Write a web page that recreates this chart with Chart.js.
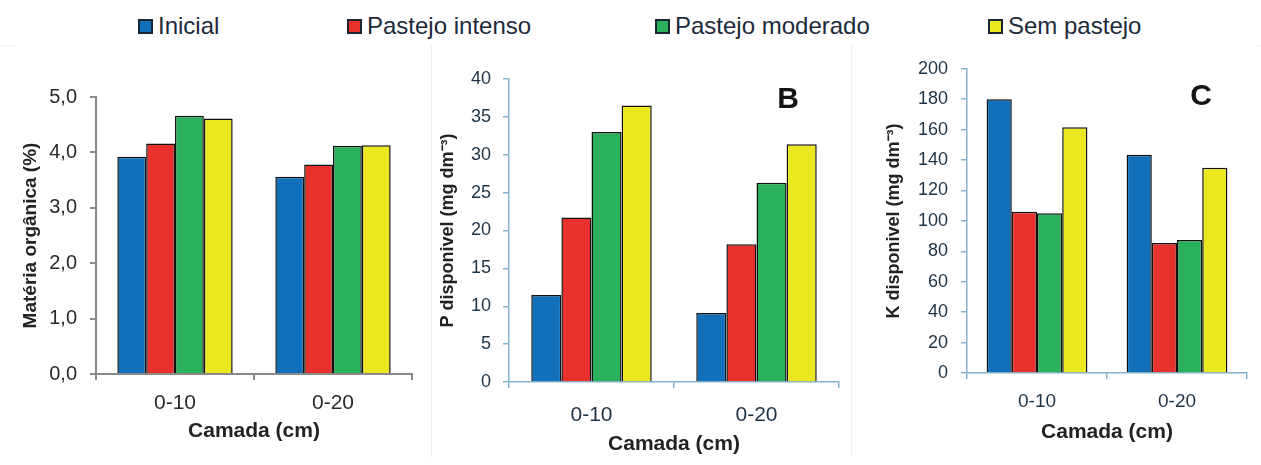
<!DOCTYPE html>
<html>
<head>
<meta charset="utf-8">
<script src="https://cdn.jsdelivr.net/npm/chart.js@4.4.1/dist/chart.umd.min.js"></script>
<style>
  body { margin: 0; background: #ffffff; width: 1261px; height: 465px; overflow: hidden; position: relative; font-family: "Liberation Sans", Arial, sans-serif; }
  .panel { position: absolute; top: 45px; background: #fff; }
  #legend { position: absolute; top: 0; left: 0; width: 1261px; height: 45px; border-bottom: 1px solid #f1f3f5; }
  .item { position: absolute; top: 12px; display: flex; align-items: center; font-size: 24px; color: #1c2a3a; }
  .box { width: 11px; height: 11px; border: 2px solid #1b2633; margin-right: 5px; }
  #wrapB { border-left: 1px solid #eef1f4; }
  #wrapC { border-left: 1px solid #eef1f4; }
</style>
</head>
<body>
<div id="legend"></div>
<div class="panel" id="wrapA" style="left:15px"><canvas id="chartA" width="415" height="413"></canvas></div>
<div class="panel" id="wrapB" style="left:431px"><canvas id="chartB" width="417" height="413"></canvas></div>
<div class="panel" id="wrapC" style="left:851px"><canvas id="chartC" width="405" height="413"></canvas></div>
<script>
// categorias e tratamentos
var camadas = ['0-10', '0-20'];
var tratamentos = ['Inicial', 'Pastejo intenso', 'Pastejo moderado', 'Sem pastejo'];
var cores = ['#1170b9', '#e8312d', '#2bb15b', '#ebe822'];

// A - materia organica (%)
var moInicial = [3.92, 3.56];
var moIntenso = [4.16, 3.78];
var moModerado = [4.66, 4.12];
var moSemPastejo = [4.61, 4.13];

// B - P disponivel (mg dm-3)
var pInicial = [11.5, 9.1];
var pIntenso = [21.7, 18.2];
var pModerado = [33.0, 26.3];
var pSemPastejo = [36.5, 31.4];

// C - K disponivel (mg dm-3)
var kInicial = [180, 143.5];
var kIntenso = [106, 85.5];
var kModerado = [105, 87.5];
var kSemPastejo = [161.5, 135];

var legendLeft = [138, 347, 655, 988];

Chart.defaults.font.family = '"Liberation Sans", Arial, sans-serif';
Chart.defaults.color = '#222';

// legenda comum aos tres graficos
var legend = document.getElementById('legend');
tratamentos.forEach(function (nome, i) {
    var item = document.createElement('div');
    item.className = 'item';
    item.style.left = legendLeft[i] + 'px';
    var box = document.createElement('span');
    box.className = 'box';
    box.style.background = cores[i];
    item.appendChild(box);
    item.appendChild(document.createTextNode(nome));
    legend.appendChild(item);
});

// letra do painel (B, C) dentro da area do grafico
var panelLetter = {
    id: 'panelLetter',
    afterDraw: function (chart, args, opts) {
        if (!opts.text) return;
        var ctx = chart.ctx, area = chart.chartArea;
        ctx.save();
        ctx.font = 'bold 30px "Liberation Sans", Arial, sans-serif';
        ctx.fillStyle = '#151515';
        ctx.textAlign = 'center';
        ctx.textBaseline = 'middle';
        ctx.fillText(opts.text, area.right + opts.dx, area.top + opts.dy);
        ctx.restore();
    }
};

function makePanel(id, series, p) {
    var datasets = series.map(function (values, i) {
        return {
            label: tratamentos[i],
            data: values,
            backgroundColor: cores[i],
            borderColor: '#111',
            borderWidth: 1.5,
            borderSkipped: 'bottom',
            barPercentage: 1,
            categoryPercentage: p.catPct
        };
    });
    return new Chart(document.getElementById(id).getContext('2d'), {
        type: 'bar',
        data: { labels: camadas, datasets: datasets },
        plugins: [panelLetter],
        options: {
            responsive: false,
            animation: false,
            devicePixelRatio: 1,
            layout: { padding: { top: p.top, right: p.right, left: 0, bottom: 0 } },
            plugins: {
                legend: { display: false },
                tooltip: { enabled: false },
                panelLetter: p.letter || {}
            },
            scales: {
                x: {
                    afterFit: function (scale) { scale.height = p.xHeight; },
                    border: { display: true, color: p.axisColor, width: p.axisWidth },
                    grid: { drawOnChartArea: false, drawTicks: true, tickLength: 6, color: p.axisColor, lineWidth: p.axisWidth, offset: true },
                    ticks: { font: { size: p.xFont }, color: p.tickColor, padding: p.xPad },
                    title: {
                        display: true,
                        text: 'Camada (cm)',
                        font: { size: 21, weight: 'bold' },
                        color: '#222',
                        padding: { top: 0, bottom: p.xTitlePad }
                    }
                },
                y: {
                    min: 0,
                    max: p.max,
                    afterFit: function (scale) { scale.width = p.yWidth; },
                    border: { display: true, color: p.axisColor, width: p.axisWidth },
                    grid: { drawOnChartArea: false, drawTicks: true, tickLength: 6, color: p.axisColor, lineWidth: p.axisWidth },
                    ticks: {
                        stepSize: p.step,
                        font: { size: p.yFont },
                        color: p.tickColor,
                        padding: p.yPad,
                        callback: p.format
                    },
                    title: {
                        display: true,
                        text: p.yTitle,
                        font: { size: p.titleFont, weight: 'bold' },
                        color: '#222',
                        padding: { top: p.yTitlePad, bottom: 0 }
                    }
                }
            }
        }
    });
}

var chartA = makePanel('chartA', [moInicial, moIntenso, moModerado, moSemPastejo], {
    catPct: 0.73, top: 52, right: 18, xHeight: 84, yWidth: 81,
    max: 5, step: 1, yFont: 20, xFont: 21, titleFont: 19,
    yPad: 13, xPad: 11, xTitlePad: 14, yTitlePad: 4,
    axisColor: '#8a8a8a', axisWidth: 2, tickColor: '#2a2a2a',
    yTitle: 'Matéria orgânica (%)',
    format: function (v) { return v.toFixed(1).replace('.', ','); }
});

var chartB = makePanel('chartB', [pInicial, pIntenso, pModerado, pSemPastejo], {
    catPct: 0.73, top: 34, right: 10, xHeight: 76, yWidth: 77,
    max: 40, step: 5, yFont: 18, xFont: 21, titleFont: 18,
    yPad: 12, xPad: 15, xTitlePad: 1, yTitlePad: 5,
    axisColor: '#86b3cb', axisWidth: 1.5, tickColor: '#1f3345',
    yTitle: 'P disponivel (mg dm⁻³)',
    letter: { text: 'B', dx: -51, dy: 21 },
    format: function (v) { return v; }
});

var chartC = makePanel('chartC', [kInicial, kIntenso, kModerado, kSemPastejo], {
    catPct: 0.72, top: 20, right: 10, xHeight: 85, yWidth: 115,
    max: 200, step: 20, yFont: 18, xFont: 19, titleFont: 18,
    yPad: 13, xPad: 11, xTitlePad: 13, yTitlePad: 31,
    axisColor: '#86b3cb', axisWidth: 1.5, tickColor: '#1f3345',
    yTitle: 'K disponivel (mg dm⁻³)',
    letter: { text: 'C', dx: -46, dy: 28 },
    format: function (v) { return v; }
});
</script>
</body>
</html>
